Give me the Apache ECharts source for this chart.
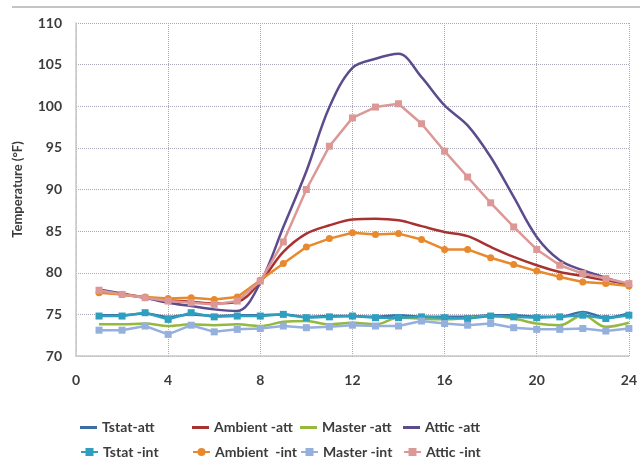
<!DOCTYPE html>
<html>
<head>
<meta charset="utf-8">
<script src="https://cdn.jsdelivr.net/npm/echarts@6/dist/echarts.min.js"></script>
<style>
html,body{margin:0;padding:0;background:#fff;}
#chart{width:640px;height:462px;}
</style>
</head>
<body>
<div id="chart"></div>
<script>
var hours = [1,2,3,4,5,6,7,8,9,10,11,12,13,14,15,16,17,18,19,20,21,22,23,24];
var xTicks = [0,4,8,12,16,20,24];
var yTicks = [70,75,80,85,90,95,100,105,110];

var tstatAtt   = [74.9,74.9,75.1,74.7,75.0,74.8,74.9,74.9,75.0,74.7,74.8,74.8,74.7,74.9,74.7,74.7,74.7,74.9,74.9,74.7,74.7,75.3,74.6,75.1];
var ambientAtt = [77.8,77.4,77.0,76.7,76.5,76.3,76.5,78.9,82.5,84.7,85.7,86.4,86.5,86.3,85.6,84.9,84.4,83.1,81.9,80.9,80.1,79.6,79.1,78.6];
var masterAtt  = [73.8,73.8,73.9,73.6,73.8,73.7,73.8,73.6,74.1,74.2,73.8,74.0,73.8,74.6,74.5,74.4,74.6,74.8,74.5,73.9,73.7,74.9,73.5,74.0];
var atticAtt   = [78.0,77.5,77.0,76.4,76.0,75.6,75.4,78.8,85.5,92.2,99.9,104.6,105.7,106.3,103.5,100.1,97.7,93.9,89.1,84.3,81.5,80.3,79.4,78.5];
var tstatInt   = [74.8,74.8,75.2,74.4,75.2,74.7,74.8,74.8,75.0,74.6,74.7,74.8,74.6,74.6,74.7,74.6,74.5,74.8,74.7,74.6,74.7,74.9,74.5,74.9];
var ambientInt = [77.6,77.4,77.1,76.9,77.0,76.8,77.1,79.1,81.1,83.1,84.1,84.8,84.6,84.7,84.0,82.8,82.8,81.8,81.0,80.2,79.5,78.9,78.7,78.4];
var masterInt  = [73.1,73.1,73.6,72.6,73.7,72.9,73.2,73.3,73.6,73.4,73.5,73.7,73.6,73.6,74.2,73.9,73.7,73.9,73.4,73.2,73.2,73.3,73.0,73.3];
var atticInt   = [77.9,77.4,77.0,76.6,76.4,76.2,76.6,79.0,83.7,90.0,95.2,98.6,99.9,100.3,97.9,94.6,91.5,88.4,85.5,82.8,80.9,79.9,79.3,78.7];

var names = ['Tstat-att','Ambient -att','Master -att','Attic -att','Tstat -int','Ambient  -int','Master -int','Attic -int'];
var colors = ['#3b6ea6','#a83232','#95b83e','#5c4c8e','#2f9fc0','#e8892e','#95b0dc','#dc9896'];

function pairs(arr){ return hours.map(function(h,i){ return [h, arr[i]]; }); }

var FONT = 'Lato';
var TXT = '#3c3c3c';

function attSeries(i, arr){
  return { name: names[i], type:'line', data: pairs(arr), smooth: 0.35, symbol:'none',
    lineStyle:{ width:2.5, color: colors[i] }, itemStyle:{ color: colors[i] }, z: 2 };
}
function intSeries(i, arr, sym){
  return { name: names[i], type:'line', data: pairs(arr), smooth:false, symbol: sym, symbolSize: 7,
    showSymbol:true, lineStyle:{ width:2.5, color: colors[i] }, itemStyle:{ color: colors[i] }, z: 3 };
}

var legendPos = [
  [80,422],[192,422],[300,422],[403,422],
  [80,450],[192,450],[300,450],[403,450]
];
var legends = names.map(function(n,i){
  var isAtt = i < 4;
  var h = isAtt ? 3 : 10;
  return { data: isAtt ? [{name:n, icon:'rect'}] : [n],
    left: legendPos[i][0], top: legendPos[i][1] - h/2, padding:0,
    itemWidth:17, itemHeight:h, itemGap:0,
    textStyle:{ fontFamily: FONT, fontWeight:'bold', fontSize:14, color: TXT }, selectedMode:false };
});

var chart = echarts.init(document.getElementById('chart'), null, {renderer:'canvas'});
chart.setOption({
  animation:false,
  backgroundColor:'#fff',
  grid:{ left:76, right:3, top:23, bottom:106 },
  legend: legends,
  graphic:[{ type:'line', shape:{ x1:12, y1:7, x2:640, y2:7 }, style:{ stroke:'#c4c4c4', lineWidth:2 } }],
  xAxis:{ type:'value', min:0, max:24, interval:4,
    axisLine:{ show:true, lineStyle:{ color:'#c8c8c8', width:1.5 } },
    axisTick:{ show:false },
    axisLabel:{ fontFamily: FONT, fontWeight:'bold', fontSize:14, color: TXT, margin:17 },
    splitLine:{ show:true, lineStyle:{ type:'dotted', color:'#a8a8b8', width:1 } } },
  yAxis:{ type:'value', min:70, max:110, interval:5,
    name:'Temperature (°F)', nameLocation:'middle', nameGap:52, nameRotate:90,
    nameTextStyle:{ fontFamily: FONT, fontWeight:'bold', fontSize:13, color: TXT },
    axisLine:{ show:true, lineStyle:{ color:'#c8c8c8', width:1.5 } },
    axisTick:{ show:false },
    axisLabel:{ fontFamily: FONT, fontWeight:'bold', fontSize:14, color: TXT, margin:14 },
    splitLine:{ show:true, lineStyle:{ type:'dotted', color:'#a8a8b8', width:1 } } },
  series:[
    attSeries(0, tstatAtt),
    attSeries(1, ambientAtt),
    attSeries(2, masterAtt),
    attSeries(3, atticAtt),
    intSeries(4, tstatInt, 'rect'),
    intSeries(5, ambientInt, 'circle'),
    intSeries(6, masterInt, 'rect'),
    intSeries(7, atticInt, 'rect')
  ]
});
</script>
</body>
</html>
